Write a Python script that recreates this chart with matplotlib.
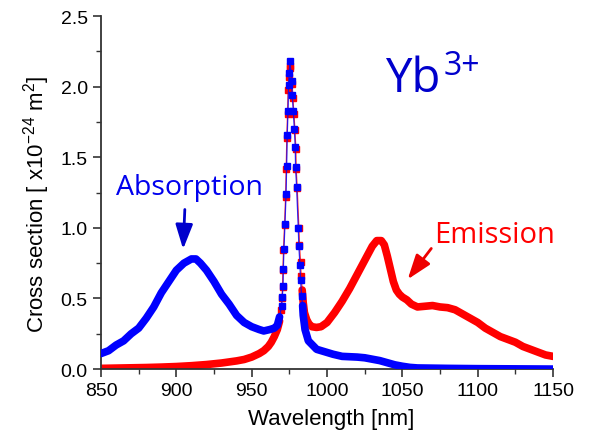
import numpy as np
import matplotlib.pyplot as plt

plt.rcParams['font.family'] = ['Liberation Sans', 'DejaVu Sans']
plt.rcParams['mathtext.fontset'] = 'custom'
plt.rcParams['mathtext.rm'] = 'Liberation Sans'

# absorption cross section (blue)
abs_wl = [850, 855, 860, 865, 870, 875, 880, 885, 890, 895, 900, 905, 910, 913,
          916, 920, 925, 930, 935, 940, 945, 950, 955, 958, 962, 965, 967, 968.5,
          969.9, 970.3, 970.8, 971.0, 971.4, 972.1, 972.8, 973.2, 973.6, 974.1,
          974.5, 974.9, 975.4, 976.5, 976.9, 977.6, 978.3, 978.9, 979.1, 979.8,
          980.9, 981.3, 982.0, 982.4, 983.1, 983.8, 984.2, 985.4, 987.6, 993.1,
          1004, 1010, 1020, 1025, 1030, 1035, 1040, 1045, 1050, 1055, 1060, 1080,
          1100, 1150]
abs_cs = [0.11, 0.13, 0.17, 0.20, 0.25, 0.29, 0.36, 0.44, 0.54, 0.62, 0.70, 0.75,
          0.78, 0.78, 0.75, 0.70, 0.62, 0.53, 0.46, 0.38, 0.33, 0.30, 0.28, 0.27,
          0.28, 0.29, 0.31, 0.37, 0.45, 0.51, 0.59, 0.71, 0.85, 1.03, 1.24, 1.44,
          1.66, 1.83, 2.01, 2.10, 2.18, 2.04, 1.94, 1.83, 1.70, 1.57, 1.43, 1.29,
          1.00, 0.87, 0.74, 0.63, 0.52, 0.45, 0.38, 0.28, 0.20, 0.14, 0.105, 0.09,
          0.085, 0.08, 0.07, 0.06, 0.045, 0.03, 0.02, 0.012, 0.008, 0.005, 0.003,
          0.0]

# emission cross section (red)
em_wl = [850, 860, 870, 880, 890, 900, 910, 920, 930, 940, 945, 950, 955, 958,
         961, 963, 965, 967, 968.5, 969.6, 970.0, 970.5, 970.7, 971.1, 971.8,
         972.5, 972.9, 973.3, 973.8, 974.2, 974.6, 975.1, 975.6, 976.9, 977.3,
         978.0, 978.7, 979.3, 979.5, 980.2, 981.3, 981.7, 982.4, 982.8, 983.5,
         984.2, 985, 986.5, 988, 990, 993, 996, 1000, 1005, 1010, 1015, 1020,
         1025, 1030, 1033, 1036, 1038, 1040, 1042, 1044, 1046, 1048, 1050, 1053,
         1056, 1060, 1065, 1070, 1075, 1080, 1085, 1090, 1095, 1100, 1105, 1110,
         1115, 1120, 1125, 1130, 1135, 1140, 1145, 1150]
em_cs = [0.005, 0.007, 0.009, 0.011, 0.014, 0.018, 0.024, 0.032, 0.043, 0.058,
         0.068, 0.085, 0.11, 0.13, 0.16, 0.19, 0.23, 0.28, 0.34, 0.42, 0.50, 0.58,
         0.70, 0.84, 1.02, 1.22, 1.42, 1.64, 1.81, 1.98, 2.07, 2.13, 2.15, 2.02,
         1.92, 1.81, 1.69, 1.56, 1.42, 1.28, 1.00, 0.88, 0.76, 0.66, 0.56, 0.47,
         0.40, 0.35, 0.32, 0.30, 0.295, 0.30, 0.33, 0.40, 0.48, 0.57, 0.67, 0.77,
         0.87, 0.91, 0.91, 0.88, 0.80, 0.71, 0.62, 0.56, 0.53, 0.51, 0.49, 0.46,
         0.44, 0.445, 0.45, 0.44, 0.435, 0.42, 0.39, 0.36, 0.33, 0.29, 0.26, 0.23,
         0.21, 0.19, 0.16, 0.14, 0.12, 0.10, 0.09]

fig = plt.figure(figsize=(5.89, 4.39), dpi=100)
ax = fig.add_axes([0.1715, 0.157, 0.7675, 0.804])


def draw_series(wl, cs, color, z):
    wl = np.array(wl, dtype=float)
    cs = np.array(cs, dtype=float)
    peak = np.abs(wl - 976) < 7.5
    # thick band away from the narrow peak, single squares on the peak
    ax.plot(wl, np.where(peak, np.nan, cs), color=color, lw=5.5,
            solid_capstyle='round', solid_joinstyle='round', zorder=z)
    ax.plot(wl, cs, color=color, lw=0.9, alpha=0.8, zorder=z)
    ax.plot(wl[peak], cs[peak], ls='none', marker='s', ms=5, mfc=color,
            mec=color, zorder=z + 0.5)


draw_series(em_wl, em_cs, '#ff0000', 2)
draw_series(abs_wl, abs_cs, '#0000ff', 3)

ax.set_xlim(850, 1150)
ax.set_ylim(0, 2.5)
ax.set_xticks(np.arange(850, 1151, 50))
ax.set_xticks(np.arange(875, 1150, 50), minor=True)
ax.set_yticks(np.arange(0, 2.51, 0.5))
ax.set_yticks(np.arange(0.25, 2.5, 0.5), minor=True)
ax.yaxis.set_major_formatter(plt.FormatStrFormatter('%.1f'))
ax.tick_params(which='major', direction='out', length=6, width=1.2,
               labelsize=14, color='#333333')
ax.tick_params(which='minor', direction='out', length=3.5, width=1.0,
               color='#333333')
for s in ['top', 'right']:
    ax.spines[s].set_visible(False)
for s in ['left', 'bottom']:
    ax.spines[s].set_linewidth(1.3)
    ax.spines[s].set_color('#333333')

ax.set_xlabel('Wavelength [nm]', fontsize=16, labelpad=6)
ax.xaxis.label.set_x(0.51)
ax.set_ylabel(r'Cross section [ x10$^{-24}$ m$^{2}$]', fontsize=16, labelpad=6)
ax.yaxis.label.set_y(0.47)

ax.text(909, 1.29, 'Absorption', color='#0000ee', fontsize=20.5,
        family=['Open Sans', 'DejaVu Sans'], ha='center', va='center')
ax.annotate('', xy=(904.4, 0.83), xytext=(905.7, 1.15),
            arrowprops=dict(arrowstyle='-|>,head_length=1.0,head_width=0.35',
                            mutation_scale=15, color='#0000cc', lw=2))
ax.text(1111, 0.95, 'Emission', color='#ff0000', fontsize=21,
        family=['Open Sans', 'DejaVu Sans'], ha='center', va='center')
ax.annotate('', xy=(1052.4, 0.62), xytext=(1070.3, 0.87),
            arrowprops=dict(arrowstyle='-|>,head_length=1.0,head_width=0.35',
                            mutation_scale=15, color='#ee0000', lw=2))

ax.text(1038.5, 1.97, 'Yb', color='#0000cc', fontsize=34,
        family=['Open Sans', 'DejaVu Sans'], ha='left', va='baseline')
ax.text(1077, 2.09, '3+', color='#0000cc', fontsize=23,
        family=['Open Sans', 'DejaVu Sans'], ha='left', va='baseline')

fig.savefig('out.png', dpi=100)
